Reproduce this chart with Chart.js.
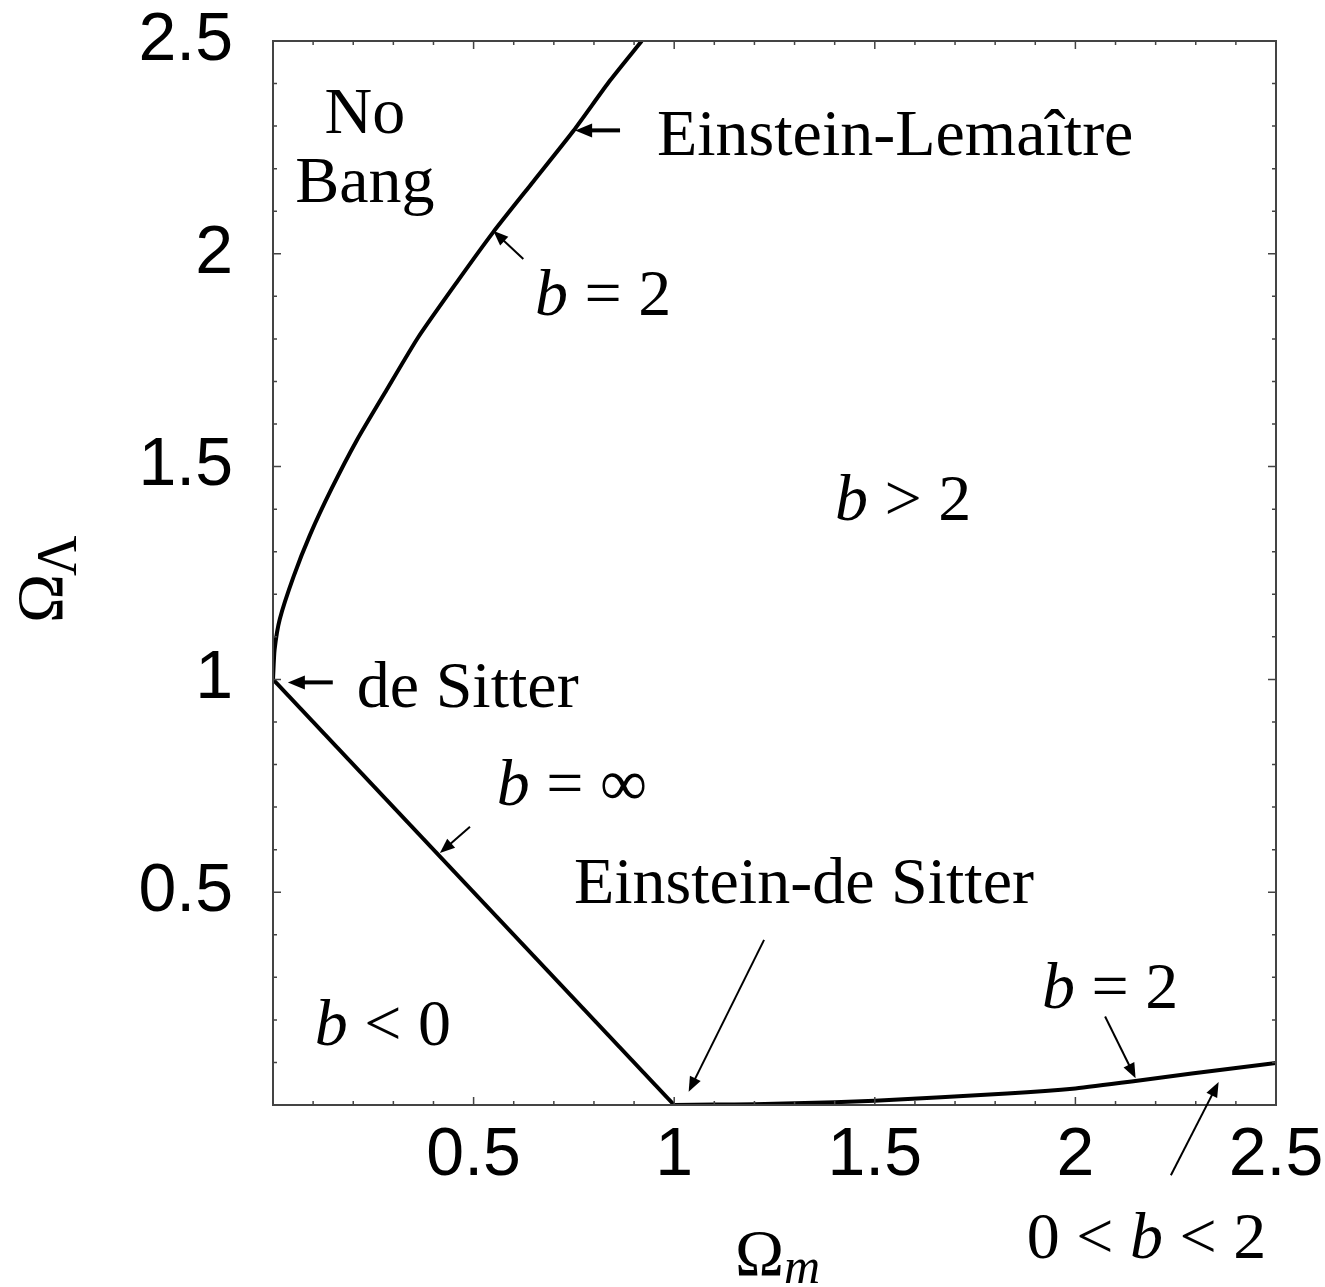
<!DOCTYPE html>
<html>
<head>
<meta charset="utf-8">
<script src="https://cdn.jsdelivr.net/npm/chart.js@4.4.1/dist/chart.umd.min.js"></script>
<style>
  html, body { margin: 0; padding: 0; background: #fff; }
  canvas { display: block; }
</style>
</head>
<body>
<canvas id="chart" width="1325" height="1287"></canvas>
<script>
// Einstein-Lemaitre boundary (No Bang region)
const upperOmegaM = [0, 0.004, 0.017, 0.051, 0.092, 0.146, 0.209, 0.283, 0.362, 0.458, 0.549, 0.649, 0.749, 0.840, 0.919];
const upperOmegaL = [1.0, 1.07, 1.142, 1.241, 1.339, 1.448, 1.562, 1.680, 1.804, 1.933, 2.051, 2.170, 2.289, 2.407, 2.5];

// b = infinity line, de Sitter -> Einstein-de Sitter
const flatOmegaM = [0, 1];
const flatOmegaL = [1, 0];

// lower b = 2 curve
const lowerOmegaM = [1, 1.1, 1.2, 1.3, 1.5, 1.83, 2.0, 2.14, 2.29, 2.5];
const lowerOmegaL = [0, 0.001, 0.002, 0.004, 0.010, 0.027, 0.039, 0.055, 0.074, 0.099];

const majorTicks = [0.5, 1, 1.5, 2, 2.5];

// annotations: text runs [text, italic], anchored in data coordinates
const labelRuns = [
  [["No", false]],
  [["Bang", false]],
  [["Einstein-Lemaître", false]],
  [["b", true], [" = 2", false]],
  [["b", true], [" > 2", false]],
  [["de Sitter", false]],
  [["b", true], [" = ∞", false]],
  [["Einstein-de Sitter", false]],
  [["b", true], [" < 0", false]],
  [["b", true], [" = 2", false]],
  [["0 < ", false], ["b", true], [" < 2", false]]
];
const labelM = [0.229, 0.229, 0.957, 0.653, 1.401, 0.209, 0.558, 0.750, 0.104, 1.917, 1.879];
const labelL = [2.285, 2.121, 2.231, 1.857, 1.375, 0.936, 0.705, 0.474, 0.141, 0.228, -0.360];
const labelCentered = [true, true, false, false, false, false, false, false, false, false, false];

// arrows: tail -> tip
const arrowFromM = [0.865, 0.624, 0.149, 0.491, 1.224, 2.074, 2.238];
const arrowFromL = [2.290, 1.988, 0.993, 0.654, 0.388, 0.208, -0.165];
const arrowToM = [0.753, 0.549, 0.037, 0.416, 1.036, 2.150, 2.357];
const arrowToL = [2.290, 2.054, 0.993, 0.592, 0.031, 0.063, 0.054];
const heavyArrows = [0, 2];

const serif = '"Liberation Serif", "Times New Roman", serif';
const sans = '"Liberation Sans", Arial, Helvetica, sans-serif';

const toPoints = (xs, ys) => xs.map((x, i) => ({ x: x, y: ys[i] }));
const isMajor = v => majorTicks.some(m => Math.abs(m - v) < 1e-6);

function drawRuns(ctx, runs, x, y, size, centered) {
  const fontOf = it => (it ? "italic " : "") + size + "px " + serif;
  let total = 0;
  runs.forEach(r => { ctx.font = fontOf(r[1]); total += ctx.measureText(r[0]).width; });
  let cx = centered ? x - total / 2 : x;
  runs.forEach(r => {
    ctx.font = fontOf(r[1]);
    ctx.fillText(r[0], cx, y);
    cx += ctx.measureText(r[0]).width;
  });
}

function drawArrow(ctx, x1, y1, x2, y2, w) {
  const ang = Math.atan2(y2 - y1, x2 - x1);
  const len = w > 3 ? 17 : 15;
  const half = w > 3 ? 7 : 6;
  const bx = x2 - len * Math.cos(ang), by = y2 - len * Math.sin(ang);
  ctx.lineWidth = w;
  ctx.beginPath();
  ctx.moveTo(x1, y1);
  ctx.lineTo(bx + 2 * Math.cos(ang), by + 2 * Math.sin(ang));
  ctx.stroke();
  ctx.beginPath();
  ctx.moveTo(x2, y2);
  ctx.lineTo(bx + half * Math.sin(ang), by - half * Math.cos(ang));
  ctx.lineTo(bx - half * Math.sin(ang), by + half * Math.cos(ang));
  ctx.closePath();
  ctx.fill();
}

const framePlugin = {
  id: "frameAndNotes",
  afterDatasetsDraw(chart) {
    const ctx = chart.ctx;
    const a = chart.chartArea;
    const xs = chart.scales.x, ys = chart.scales.y;
    ctx.save();

    // frame with inward ticks on all four sides
    ctx.strokeStyle = "#444";
    ctx.lineWidth = 2;
    ctx.strokeRect(a.left, a.top, a.right - a.left, a.bottom - a.top);
    ctx.lineWidth = 1.5;
    xs.ticks.forEach(t => {
      const px = xs.getPixelForValue(t.value);
      const l = isMajor(t.value) ? 8 : 4;
      ctx.beginPath();
      ctx.moveTo(px, a.bottom); ctx.lineTo(px, a.bottom - l);
      ctx.moveTo(px, a.top); ctx.lineTo(px, a.top + l);
      ctx.stroke();
    });
    ys.ticks.forEach(t => {
      const py = ys.getPixelForValue(t.value);
      const l = isMajor(t.value) ? 8 : 4;
      ctx.beginPath();
      ctx.moveTo(a.left, py); ctx.lineTo(a.left + l, py);
      ctx.moveTo(a.right, py); ctx.lineTo(a.right - l, py);
      ctx.stroke();
    });

    // arrows
    ctx.strokeStyle = "#000";
    ctx.fillStyle = "#000";
    ctx.lineCap = "butt";
    arrowFromM.forEach((m, i) => {
      drawArrow(ctx,
        xs.getPixelForValue(m), ys.getPixelForValue(arrowFromL[i]),
        xs.getPixelForValue(arrowToM[i]), ys.getPixelForValue(arrowToL[i]),
        heavyArrows.includes(i) ? 4 : 2);
    });

    // annotation text
    ctx.textBaseline = "alphabetic";
    ctx.textAlign = "left";
    labelRuns.forEach((runs, i) => {
      drawRuns(ctx, runs, xs.getPixelForValue(labelM[i]), ys.getPixelForValue(labelL[i]), 66, labelCentered[i]);
    });

    // axis titles
    ctx.font = "66px " + serif;
    ctx.fillText("Ω", a.left + 462, a.bottom + 170);
    let w = ctx.measureText("Ω").width;
    ctx.font = "italic 50px " + serif;
    ctx.fillText("m", a.left + 462 + w, a.bottom + 178);

    ctx.translate(a.left - 211, a.top + 582);
    ctx.rotate(-Math.PI / 2);
    ctx.font = "66px " + serif;
    ctx.fillText("Ω", 0, 0);
    w = ctx.measureText("Ω").width;
    ctx.font = "56px " + serif;
    ctx.fillText("Λ", w - 2, 14);

    ctx.restore();
  }
};

const lineStyle = {
  showLine: true,
  borderColor: "#000",
  backgroundColor: "#000",
  borderWidth: 4,
  pointRadius: 0,
  fill: false
};

new Chart(document.getElementById("chart"), {
  type: "scatter",
  data: {
    datasets: [
      Object.assign({ label: "Einstein-Lemaître", data: toPoints(upperOmegaM, upperOmegaL), tension: 0.2 }, lineStyle),
      Object.assign({ label: "b = ∞", data: toPoints(flatOmegaM, flatOmegaL), tension: 0 }, lineStyle),
      Object.assign({ label: "b = 2", data: toPoints(lowerOmegaM, lowerOmegaL), tension: 0.2 }, lineStyle)
    ]
  },
  options: {
    responsive: false,
    animation: false,
    events: [],
    layout: { padding: { top: 41, right: 49, left: 0, bottom: 0 } },
    plugins: {
      legend: { display: false },
      tooltip: { enabled: false }
    },
    scales: {
      x: {
        type: "linear",
        min: 0,
        max: 2.5,
        afterFit: s => { s.height = 182; s.paddingLeft = 0; s.paddingRight = 0; },
        grid: { display: false, drawTicks: false },
        border: { display: false },
        ticks: {
          stepSize: 0.1,
          autoSkip: false,
          maxRotation: 0,
          padding: 10,
          color: "#000",
          font: { family: sans, size: 68 },
          callback: v => (isMajor(v) ? String(Math.round(v * 10) / 10) : "")
        }
      },
      y: {
        type: "linear",
        min: 0,
        max: 2.5,
        afterFit: s => { s.width = 273; s.paddingTop = 0; s.paddingBottom = 0; },
        grid: { display: false, drawTicks: false },
        border: { display: false },
        ticks: {
          stepSize: 0.1,
          autoSkip: false,
          padding: 40,
          color: "#000",
          font: { family: sans, size: 68 },
          callback: v => (isMajor(v) ? String(Math.round(v * 10) / 10) : "")
        }
      }
    }
  },
  plugins: [framePlugin]
});
</script>
</body>
</html>
